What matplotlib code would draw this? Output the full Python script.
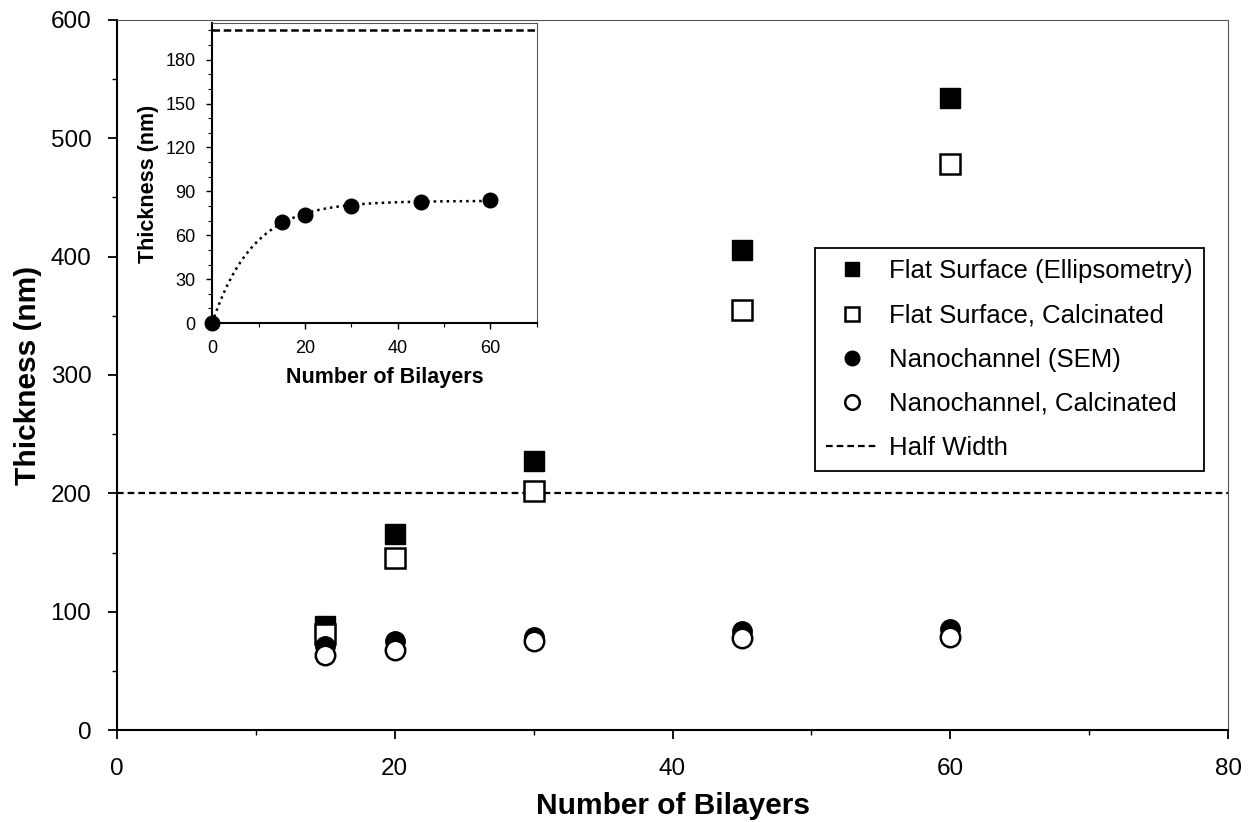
import numpy as np
import matplotlib
matplotlib.use("Agg")
import matplotlib.pyplot as plt
from matplotlib.ticker import MultipleLocator

plt.rcParams['font.family'] = ['Liberation Sans', 'DejaVu Sans']

bilayers = [15, 20, 30, 45, 60]
flat_ellips = [88, 166, 227, 406, 534]
flat_calc = [81, 145, 202, 355, 478]
nano_sem = [71, 75, 79, 84, 85]
nano_calc = [63, 68, 75, 78, 79]
half_width = 200

inset_x = [0, 15, 20, 30, 45, 60]
inset_y = [0, 69, 74, 80, 83, 84]

fig = plt.figure(figsize=(12.48, 8.22), dpi=100)
ax = fig.add_axes([0.0938, 0.1119, 0.8902, 0.8638])

ms = 14
ax.plot(bilayers, flat_ellips, 's', color='black', ms=ms, mec='black',
        label='Flat Surface (Ellipsometry)', zorder=3)
ax.plot(bilayers, flat_calc, 's', color='white', ms=ms, mec='black', mew=1.8,
        label='Flat Surface, Calcinated', zorder=3)
ax.plot(bilayers, nano_sem, 'o', color='black', ms=ms, mec='black',
        label='Nanochannel (SEM)', zorder=4)
ax.plot(bilayers, nano_calc, 'o', color='white', ms=ms, mec='black', mew=1.8,
        label='Nanochannel, Calcinated', zorder=5)
ax.axhline(half_width, color='black', ls=(0, (3, 1.8)), lw=1.6, label='Half Width', zorder=2)

ax.set_xlim(0, 80)
ax.set_ylim(0, 600)
ax.xaxis.set_major_locator(MultipleLocator(20))
ax.xaxis.set_minor_locator(MultipleLocator(10))
ax.yaxis.set_major_locator(MultipleLocator(100))
ax.yaxis.set_minor_locator(MultipleLocator(50))
ax.tick_params(which='major', direction='out', length=6.5, width=1.3, labelsize=17.5)
ax.tick_params(which='minor', direction='out', length=3.5, width=1.0)
ax.tick_params(axis='x', which='major', pad=14)
ax.tick_params(axis='y', which='major', pad=12)
for s in ('left', 'bottom'):
    ax.spines[s].set_linewidth(1.5)
for s in ('top', 'right'):
    ax.spines[s].set_linewidth(0.8)
    ax.spines[s].set_linestyle((0, (1, 1)))
    ax.spines[s].set_color('#555555')

ax.set_xlabel('Number of Bilayers', fontsize=21.5, fontweight='bold', labelpad=8)
ax.set_ylabel('Thickness (nm)', fontsize=21.5, fontweight='bold', labelpad=6)

leg = ax.legend(loc='upper left', bbox_to_anchor=(0.628, 0.679), fontsize=18.5,
                frameon=True, fancybox=False, edgecolor='black', framealpha=1,
                markerscale=0.75, handlelength=2.0, handletextpad=0.45,
                labelspacing=0.78, borderpad=0.45, borderaxespad=0)
leg.get_frame().set_linewidth(1.3)

# Inset: nanochannel thickness with saturation trend
ins = fig.add_axes([0.170, 0.607, 0.260, 0.365])
xs = np.array(inset_x, float)
ys = np.array(inset_y, float)
best = None
for b in np.linspace(2, 30, 2801):
    basis = 1 - np.exp(-xs / b)
    a = basis @ ys / (basis @ basis)
    err = np.sum((a * basis - ys) ** 2)
    if best is None or err < best[0]:
        best = (err, a, b)
_, a_fit, b_fit = best
xf = np.linspace(0, 60, 300)
ins.plot(xf, a_fit * (1 - np.exp(-xf / b_fit)), color='black', ls=(0, (1, 1.6)), lw=1.8)
ins.plot(inset_x, inset_y, 'o', color='black', ms=10.5, zorder=3, clip_on=False)
ins.axhline(half_width, color='black', ls=(0, (3, 1.5)), lw=1.8)
ins.set_xlim(0, 70)
ins.set_ylim(0, 205)
ins.xaxis.set_major_locator(MultipleLocator(20))
ins.xaxis.set_minor_locator(MultipleLocator(10))
ins.yaxis.set_major_locator(MultipleLocator(30))
ins.yaxis.set_minor_locator(MultipleLocator(10))
ins.tick_params(which='major', direction='out', length=4, width=1.0, labelsize=13)
ins.tick_params(which='minor', direction='out', length=3, width=0.8)
ins.tick_params(axis='x', which='major', pad=8)
ins.tick_params(axis='y', which='major', pad=8)
for s in ('left', 'bottom'):
    ins.spines[s].set_linewidth(1.5)
for s in ('top', 'right'):
    ins.spines[s].set_linewidth(0.8)
    ins.spines[s].set_linestyle((0, (1, 1)))
    ins.spines[s].set_color('#555555')
ins.set_xlabel('Number of Bilayers', fontsize=15.5, fontweight='bold')
ins.set_ylabel('Thickness (nm)', fontsize=15.5, fontweight='bold')
ins.xaxis.set_label_coords(0.532, -0.145)
ins.yaxis.set_label_coords(-0.165, 0.463)

fig.savefig('out.png', dpi=100)
